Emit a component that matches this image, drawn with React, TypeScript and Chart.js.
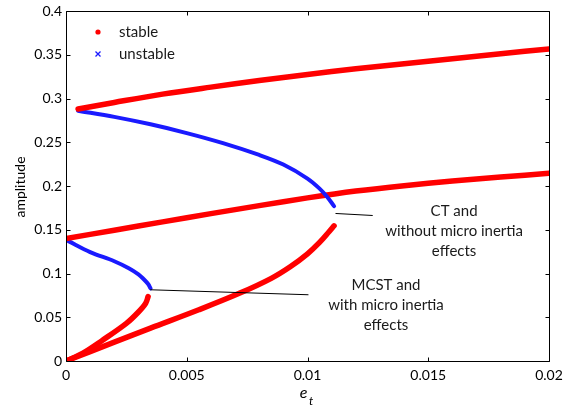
import React, { useEffect, useRef } from "react";
import { Chart, registerables } from "chart.js";

Chart.register(...registerables);

// ---- axis ticks ----
const xTickValues = [0, 0.005, 0.01, 0.015, 0.02];
const xTickLabels = ["0", "0.005", "0.01", "0.015", "0.02"];
const yTickValues = [0, 0.05, 0.1, 0.15, 0.2, 0.25, 0.3, 0.35, 0.4];
const yTickLabels = ["0", "0.05", "0.1", "0.15", "0.2", "0.25", "0.3", "0.35", "0.4"];

// ---- CT (without micro inertia) ----
const ctUpperStableX = [0.0005, 0.002, 0.004, 0.006, 0.008, 0.01, 0.012, 0.014, 0.016, 0.018, 0.02];
const ctUpperStableY = [0.288, 0.2955, 0.305, 0.313, 0.3205, 0.3275, 0.334, 0.3398, 0.3455, 0.3512, 0.3566];

const ctUnstableX = [0.0005, 0.002, 0.0035, 0.005, 0.0065, 0.008, 0.009, 0.01, 0.0105, 0.0108, 0.0111];
const ctUnstableY = [0.286, 0.279, 0.2705, 0.2605, 0.249, 0.2355, 0.2245, 0.2085, 0.197, 0.188, 0.177];

const ctLowerStableX = [0, 0.002, 0.0035, 0.0055, 0.0072, 0.0085, 0.0093, 0.01, 0.0105, 0.0109, 0.0111];
const ctLowerStableY = [0, 0.0215, 0.0375, 0.0585, 0.0776, 0.0945, 0.108, 0.1225, 0.1355, 0.148, 0.1545];

// ---- MCST (with micro inertia) ----
const mcstUpperStableX = [0, 0.002, 0.004, 0.006, 0.008, 0.01, 0.012, 0.014, 0.016, 0.018, 0.02];
const mcstUpperStableY = [0.14, 0.1495, 0.159, 0.1684, 0.1776, 0.1864, 0.1942, 0.2004, 0.2056, 0.2102, 0.2145];

const mcstUnstableX = [0.0001, 0.001, 0.002, 0.0026, 0.003, 0.0032, 0.0034, 0.0035];
const mcstUnstableY = [0.137, 0.1245, 0.114, 0.106, 0.099, 0.094, 0.088, 0.083];

const mcstLowerStableX = [0, 0.0007, 0.0015, 0.0025, 0.003, 0.0033, 0.0034];
const mcstLowerStableY = [0, 0.009, 0.0235, 0.043, 0.056, 0.066, 0.0737];

// ---- annotations (data coordinates) ----
const ctLeaderX = [0.01116, 0.0127];
const ctLeaderY = [0.1686, 0.1663];
const ctLabelLines = ["CT and", "without micro inertia", "effects"];
const ctLabelX = 0.01607;
const ctLabelY = [0.171, 0.148, 0.126];

const mcstLeaderX = [0.00349, 0.01004];
const mcstLeaderY = [0.0814, 0.0757];
const mcstLabelLines = ["MCST and", "with micro inertia", "effects"];
const mcstLabelX = 0.01325;
const mcstLabelY = [0.0872, 0.0642, 0.0413];

const legendLabels = ["stable", "unstable"];

const RED = "#ff0000";
const BLUE = "#1a1aff";
const FONT = "Lato, 'Open Sans', sans-serif";

const toPts = (xs: number[], ys: number[]) => xs.map((x, i) => ({ x, y: ys[i] }));

const mkSet = (label: string, xs: number[], ys: number[], color: string, width: number) => ({
  label,
  data: toPts(xs, ys),
  borderColor: color,
  backgroundColor: color,
  borderWidth: width,
  pointRadius: 0,
  showLine: true,
  tension: 0.35,
  borderCapStyle: "round" as const,
  borderJoinStyle: "round" as const,
  fill: false,
});

const overlayPlugin = {
  id: "overlay",
  afterDraw(chart: any) {
    const { ctx, chartArea: a, scales } = chart;
    const x = scales.x;
    const y = scales.y;
    ctx.save();
    // frame
    ctx.strokeStyle = "#000";
    ctx.lineWidth = 1;
    const L = Math.round(a.left) + 0.5;
    const R = Math.round(a.right) + 0.5;
    const T = Math.round(a.top) + 0.5;
    const B = Math.round(a.bottom) + 0.5;
    ctx.beginPath();
    ctx.rect(L, T, R - L, B - T);
    ctx.stroke();
    // inward ticks
    const tl = 4;
    ctx.beginPath();
    xTickValues.forEach((v) => {
      const px = Math.round(x.getPixelForValue(v)) + 0.5;
      ctx.moveTo(px, B);
      ctx.lineTo(px, B - tl);
      ctx.moveTo(px, T);
      ctx.lineTo(px, T + tl);
    });
    yTickValues.forEach((v) => {
      const py = Math.round(y.getPixelForValue(v)) + 0.5;
      ctx.moveTo(L, py);
      ctx.lineTo(L + tl, py);
      ctx.moveTo(R, py);
      ctx.lineTo(R - tl, py);
    });
    ctx.stroke();

    // leader lines
    ctx.strokeStyle = "#000";
    ctx.lineWidth = 1;
    ctx.beginPath();
    ctx.moveTo(x.getPixelForValue(ctLeaderX[0]), y.getPixelForValue(ctLeaderY[0]));
    ctx.lineTo(x.getPixelForValue(ctLeaderX[1]), y.getPixelForValue(ctLeaderY[1]));
    ctx.moveTo(x.getPixelForValue(mcstLeaderX[0]), y.getPixelForValue(mcstLeaderY[0]));
    ctx.lineTo(x.getPixelForValue(mcstLeaderX[1]), y.getPixelForValue(mcstLeaderY[1]));
    ctx.stroke();

    // annotation texts
    ctx.fillStyle = "#1a1a1a";
    ctx.font = `15px ${FONT}`;
    ctx.textAlign = "center";
    ctx.textBaseline = "middle";
    ctLabelLines.forEach((t, i) =>
      ctx.fillText(t, x.getPixelForValue(ctLabelX), y.getPixelForValue(ctLabelY[i]))
    );
    mcstLabelLines.forEach((t, i) =>
      ctx.fillText(t, x.getPixelForValue(mcstLabelX), y.getPixelForValue(mcstLabelY[i]))
    );

    // legend
    const lx = a.left + 32;
    const ly1 = a.top + 21;
    const ly2 = a.top + 43;
    ctx.fillStyle = RED;
    ctx.beginPath();
    ctx.arc(lx, ly1, 2.6, 0, Math.PI * 2);
    ctx.fill();
    ctx.strokeStyle = BLUE;
    ctx.lineWidth = 1.3;
    ctx.beginPath();
    ctx.moveTo(lx - 2.5, ly2 - 2.5);
    ctx.lineTo(lx + 2.5, ly2 + 2.5);
    ctx.moveTo(lx + 2.5, ly2 - 2.5);
    ctx.lineTo(lx - 2.5, ly2 + 2.5);
    ctx.stroke();
    ctx.fillStyle = "#1a1a1a";
    ctx.font = `15px ${FONT}`;
    ctx.textAlign = "left";
    ctx.fillText(legendLabels[0], lx + 21, ly1);
    ctx.fillText(legendLabels[1], lx + 21, ly2);

    // axis titles
    ctx.fillStyle = "#000";
    ctx.font = `14px ${FONT}`;
    ctx.save();
    ctx.translate(20, (a.top + a.bottom) / 2 + 1);
    ctx.rotate(-Math.PI / 2);
    ctx.textAlign = "center";
    ctx.fillText("amplitude", 0, 0);
    ctx.restore();
    const cx = (a.left + a.right) / 2;
    ctx.font = `italic 16px ${FONT}`;
    ctx.textAlign = "right";
    ctx.fillText("e", cx, 393);
    ctx.font = `italic 12px ${FONT}`;
    ctx.textAlign = "left";
    ctx.fillText("t", cx + 1.5, 401);
    ctx.restore();
  },
};

export default function App() {
  const ref = useRef<HTMLCanvasElement | null>(null);
  useEffect(() => {
    document.body.style.margin = "0";
    if (!ref.current) return;
    const chart = new Chart(ref.current, {
      type: "scatter",
      data: {
        datasets: [
          mkSet("CT stable upper", ctUpperStableX, ctUpperStableY, RED, 5.5),
          mkSet("CT unstable", ctUnstableX, ctUnstableY, BLUE, 4),
          mkSet("CT stable lower", ctLowerStableX, ctLowerStableY, RED, 5.5),
          mkSet("MCST stable upper", mcstUpperStableX, mcstUpperStableY, RED, 5.5),
          mkSet("MCST unstable", mcstUnstableX, mcstUnstableY, BLUE, 4),
          mkSet("MCST stable lower", mcstLowerStableX, mcstLowerStableY, RED, 5.5),
        ],
      },
      options: {
        responsive: false,
        animation: false,
        devicePixelRatio: 1,
        layout: { padding: { top: 11, right: 22, left: 0, bottom: 0 } },
        plugins: { legend: { display: false }, tooltip: { enabled: false } },
        scales: {
          x: {
            type: "linear",
            min: 0,
            max: 0.02,
            grid: { display: false, drawTicks: false },
            border: { display: false },
            afterBuildTicks: (s: any) => {
              s.ticks = xTickValues.map((v) => ({ value: v }));
            },
            afterFit: (s: any) => {
              s.height = 47;
              s.paddingLeft = 0;
              s.paddingRight = 0;
            },
            ticks: {
              padding: 6,
              color: "#000",
              font: { family: FONT, size: 14 },
              maxRotation: 0,
              autoSkip: false,
              callback: (v: any) => {
                const i = xTickValues.findIndex((t) => Math.abs(t - Number(v)) < 1e-9);
                return i >= 0 ? xTickLabels[i] : "";
              },
            },
          },
          y: {
            type: "linear",
            min: 0,
            max: 0.4,
            grid: { display: false, drawTicks: false },
            border: { display: false },
            afterBuildTicks: (s: any) => {
              s.ticks = yTickValues.map((v) => ({ value: v }));
            },
            afterFit: (s: any) => {
              s.width = 66;
              s.paddingTop = 0;
              s.paddingBottom = 0;
            },
            ticks: {
              padding: 4,
              color: "#000",
              font: { family: FONT, size: 14 },
              autoSkip: false,
              callback: (v: any) => {
                const i = yTickValues.findIndex((t) => Math.abs(t - Number(v)) < 1e-9);
                return i >= 0 ? yTickLabels[i] : "";
              },
            },
          },
        },
      },
      plugins: [overlayPlugin],
    });
    return () => chart.destroy();
  }, []);
  return (
    <div style={{ position: "absolute", left: 0, top: 0, width: 571, height: 408, background: "#fff" }}>
      <canvas ref={ref} width={571} height={408} style={{ width: 571, height: 408 }} />
    </div>
  );
}
